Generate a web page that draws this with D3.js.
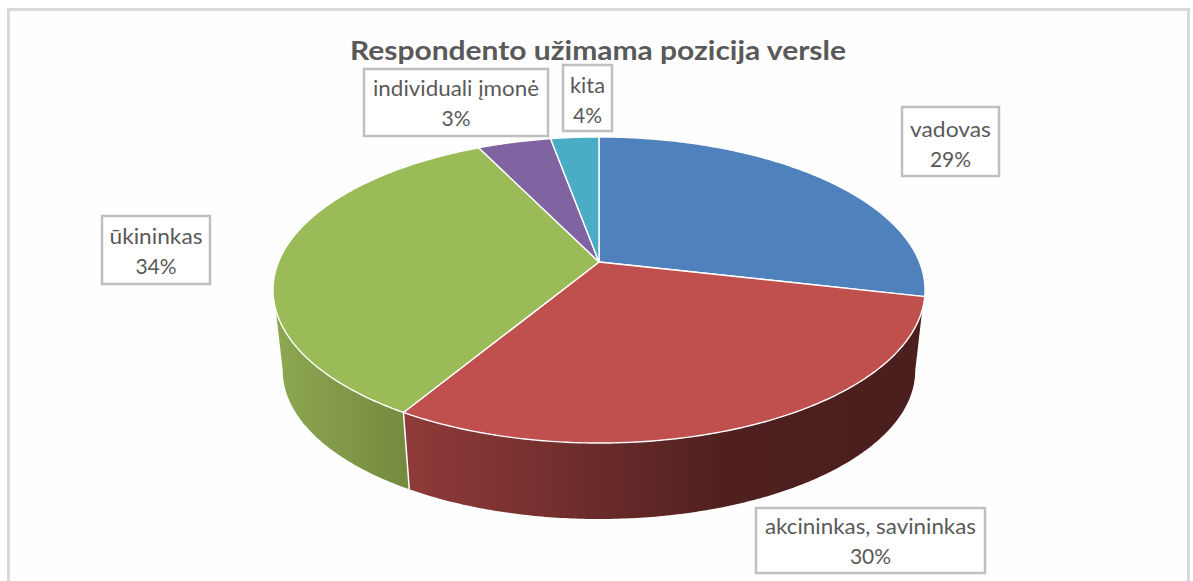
<!DOCTYPE html>
<html><head><meta charset="utf-8">
<style>html,body{margin:0;padding:0;background:#fff;overflow:hidden}svg{display:block}</style>
<script src="https://cdn.jsdelivr.net/npm/d3@7"></script>
</head><body><svg id="c" width="1193" height="581"></svg>
<script>
const titleText = "Respondento užimama pozicija versle";
const categories = ["vadovas", "akcininkas, savininkas", "ūkininkas", "individuali įmonė", "kita"];
const sliceShares = [28.6, 30.0, 34.2, 4.35, 2.85];   // slice sizes as drawn
const printedPercents = [29, 30, 34, 3, 4];     // percentages as printed in the labels
const sliceColors = ["#4f81bd", "#c0504d", "#9bbb59", "#8064a2", "#4bacc6"];

const svg = d3.select("#c");
const W = 1193, H = 581;

// frame
svg.append("rect").attr("width", W).attr("height", H).attr("fill", "#fff");
svg.append("path").attr("d", `M8.5,${H+5} V9.5 H1188.5 V${H+5}`).attr("fill", "#fefefe")
   .attr("stroke", "#d9d9d9").attr("stroke-width", 3);

// perspective disc projection
const k = 0.183, A = 320.5, B = 147.9, cx = 599;
const project = (a, scale, y0) => {
  const u = Math.sin(a), v = Math.cos(a), w = 1 + k * v;
  return [cx + scale * A * u / w, y0 - scale * B * v / w];
};
const topDisc = a => project(a, 1, 262);
const botDisc = a => project(a, 0.97, 343.4);
const line = d3.line();
const arcPts = (f, a0, a1) => {
  const n = Math.max(2, Math.ceil(Math.abs(a1 - a0) / 0.01));
  return d3.range(n + 1).map(i => f(a0 + (a1 - a0) * i / n));
};

const pie = d3.pie().sort(null).startAngle(0).endAngle(2 * Math.PI);
const arcs = pie(sliceShares);
const rad = d3.scaleLinear().domain([0, 360]).range([0, 2 * Math.PI]);

// gradients for the wall
const defs = svg.append("defs");
const grad = (id, x1, x2, stops) => {
  const g = defs.append("linearGradient").attr("id", id).attr("gradientUnits", "userSpaceOnUse")
    .attr("x1", x1).attr("x2", x2).attr("y1", 0).attr("y2", 0);
  stops.forEach(s => g.append("stop").attr("offset", s[0]).attr("stop-color", s[1]));
};
grad("wallRed", 404, 925, [[0, "#903b39"], [0.3, "#722e2d"], [0.62, "#4f201f"], [1, "#4a1f1e"]]);
grad("wallGreen", 273, 408, [[0, "#8ea851"], [1, "#748a3f"]]);

// wall extents
const wallTopStart = rad(107.8), wallBotStart = rad(100.5);
const wallTopEnd = rad(360 - 107.8), wallBotEnd = rad(360 - 100.5);
const seam = arcs[1].endAngle;

const wall = svg.append("g");
wall.append("path")
  .attr("d", line([...arcPts(topDisc, wallTopStart, seam), ...arcPts(botDisc, seam, wallBotStart)]) + "Z")
  .attr("fill", "url(#wallRed)");
wall.append("path")
  .attr("d", line([...arcPts(topDisc, seam, wallTopEnd), ...arcPts(botDisc, wallBotEnd, seam)]) + "Z")
  .attr("fill", "url(#wallGreen)");
wall.append("path").attr("d", line([topDisc(seam), botDisc(seam)]))
  .attr("stroke", "#fff").attr("stroke-width", 1.5).attr("fill", "none");

// top faces
svg.append("g").selectAll("path").data(arcs).join("path")
  .attr("d", d => line([[cx, 262], ...arcPts(topDisc, d.startAngle, d.endAngle)]) + "Z")
  .attr("fill", (d, i) => sliceColors[i])
  .attr("stroke", "#fff").attr("stroke-width", 1.4).attr("stroke-linejoin", "round");

// title
const fontFamily = "Lato, 'Open Sans', sans-serif";
svg.append("text").attr("x", 598).attr("y", 60).attr("text-anchor", "middle")
  .attr("font-family", fontFamily).attr("font-weight", 700).attr("font-size", 26)
  .attr("fill", "#595959").attr("textLength", 496).attr("lengthAdjust", "spacingAndGlyphs")
  .text(titleText);

// labels: box [x0, y0, x1, y1], first baseline, width of the first text line
const labelLayout = [
  {box: [902, 107, 999, 176], y: 137, tw: 81},
  {box: [756, 508, 985, 573], y: 534, tw: 211},
  {box: [102, 216, 210, 284], y: 244, tw: 93},
  {box: [364, 69, 548, 136], y: 96, tw: 166},
  {box: [563, 65, 612, 131], y: 93, tw: 35}
];
const lab = svg.append("g").selectAll("g").data(categories).join("g");
lab.append("rect")
  .attr("x", (d, i) => labelLayout[i].box[0])
  .attr("y", (d, i) => labelLayout[i].box[1])
  .attr("width", (d, i) => labelLayout[i].box[2] - labelLayout[i].box[0])
  .attr("height", (d, i) => labelLayout[i].box[3] - labelLayout[i].box[1])
  .attr("fill", "#fff").attr("stroke", "#bfbfbf").attr("stroke-width", 2.5);
const mid = i => (labelLayout[i].box[0] + labelLayout[i].box[2]) / 2;
lab.append("text").attr("x", (d, i) => mid(i)).attr("y", (d, i) => labelLayout[i].y)
  .attr("text-anchor", "middle").attr("font-family", fontFamily).attr("font-size", 21)
  .attr("fill", "#595959")
  .attr("textLength", (d, i) => labelLayout[i].tw).attr("lengthAdjust", "spacingAndGlyphs")
  .text(d => d);
lab.append("text").attr("x", (d, i) => mid(i)).attr("y", (d, i) => labelLayout[i].y + 29.5)
  .attr("text-anchor", "middle").attr("font-family", fontFamily).attr("font-size", 21)
  .attr("fill", "#595959")
  .text((d, i) => printedPercents[i] + "%");
</script></body></html>
